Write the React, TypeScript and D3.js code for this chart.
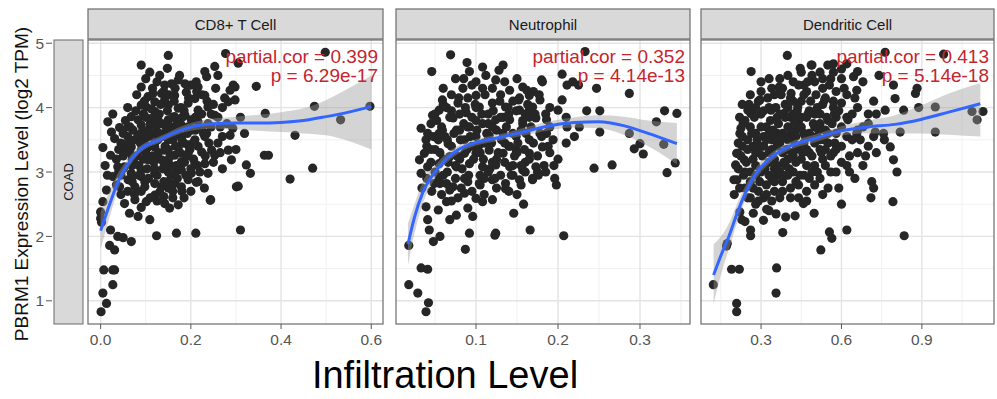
import { useEffect, useRef } from "react";
import * as d3 from "d3";

// cell types (facet strips)
const cellTypes = ["CD8+ T Cell", "Neutrophil", "Dendritic Cell"];
const cancer = "COAD";
const corText = ["partial.cor = 0.399", "partial.cor = 0.352", "partial.cor = 0.413"];
const pText = ["p = 6.29e-17", "p = 4.14e-13", "p = 5.14e-18"];

const yTicks = [1, 2, 3, 4, 5];
const xTicksCd8 = [0.0, 0.2, 0.4, 0.6];
const xTicksNeu = [0.1, 0.2, 0.3];
const xTicksDc = [0.3, 0.6, 0.9];

// [infiltration, expression]
const cd8Points: [number, number][] = [
  [0.001,0.83],[0.013,0.96],[0.005,1.12],[0.027,1.25],[0.007,1.48],[0.027,1.48],[0.031,1.48],[0.02,1.86],[0.031,1.79],
  [0.022,2.1],[0.038,2.0],[0.05,1.98],[0.068,1.92],[0.124,2.01],[0.168,2.05],[0.211,2.05],[0.31,2.1],
  [0.0,2.38],[0.0,2.28],[0.002,2.22],[0.005,2.54],[0.013,2.72],[0.035,2.8],[0.053,2.51],[0.064,2.36],[0.083,2.31],
  [0.076,2.57],[0.101,2.54],[0.109,2.26],[0.12,2.64],[0.131,2.69],[0.142,2.51],[0.15,2.75],[0.153,2.44],[0.172,2.49],
  [0.098,2.85],[0.212,2.84],[0.244,2.57],[0.301,2.77],[0.068,2.9],[0.045,2.65],[0.09,2.45],[0.16,2.6],[0.18,2.7],
  [0.027,3.9],[0.016,3.78],[0.042,3.69],[0.024,3.62],[0.031,3.52],[0.005,3.38],[0.022,3.26],[0.038,3.08],[0.027,2.93],
  [0.01,3.1],[0.015,2.95],[0.053,3.37],[0.076,3.5],[0.083,3.81],[0.101,4.01],[0.12,3.94],[0.15,4.04],[0.172,3.99],
  [0.194,4.07],[0.216,3.96],[0.238,4.01],[0.253,3.88],[0.216,3.78],[0.194,3.7],[0.157,3.7],[0.135,3.75],[0.105,3.65],
  [0.083,3.57],[0.068,3.39],[0.09,3.34],[0.12,3.39],[0.15,3.5],[0.179,3.55],[0.209,3.5],[0.231,3.55],[0.246,3.34],
  [0.224,3.31],[0.253,3.26],[0.283,3.34],[0.29,3.19],[0.194,3.29],[0.164,3.26],[0.135,3.19],[0.105,3.19],[0.076,3.13],
  [0.053,3.08],[0.061,2.88],[0.09,2.93],[0.12,2.98],[0.15,3.0],[0.179,3.03],[0.216,2.85],[0.238,2.98],[0.194,2.88],
  [0.164,2.82],[0.135,2.77],[0.098,2.77],[0.076,2.77],[0.042,2.77],[0.105,4.17],[0.135,4.22],[0.164,4.19],[0.142,4.12],
  [0.12,4.09],[0.09,4.04],[0.068,3.86],[0.061,3.7],[0.112,3.83],[0.164,3.86],[0.187,3.88],[0.201,3.81],[0.12,3.6],
  [0.142,3.6],[0.164,3.57],[0.098,3.5],[0.127,3.5],[0.105,3.39],[0.142,3.34],[0.172,3.39],[0.194,3.42],[0.12,3.24],
  [0.15,3.19],[0.179,3.16],[0.209,3.13],[0.231,3.13],[0.09,3.03],[0.068,2.98],[0.164,2.98],[0.201,2.98],[0.12,2.82],
  [0.15,2.85],[0.179,2.77],[0.201,3.65],[0.224,3.68],[0.238,3.75],[0.179,3.73],[0.15,3.81],[0.127,3.81],[0.09,3.73],
  [0.209,4.14],[0.231,4.19],[0.216,4.32],[0.187,4.37],[0.142,4.35],[0.06,3.55],[0.05,3.25],[0.07,3.2],[0.045,2.95],
  [0.15,4.81],[0.09,4.66],[0.109,4.55],[0.148,4.61],[0.131,4.5],[0.253,4.64],[0.231,4.56],[0.235,4.48],[0.212,4.4],
  [0.172,4.43],[0.09,4.32],[0.116,4.22],[0.157,4.37],[0.19,4.24],[0.298,4.32],[0.283,4.09],[0.277,4.84],[0.305,4.69],
  [0.498,4.86],[0.345,4.33],[0.365,3.91],[0.431,3.57],[0.47,3.06],[0.42,2.89],[0.474,4.02],[0.532,3.81],[0.363,3.26],
  [0.372,3.26],[0.332,2.98],[0.323,3.11],[0.293,3.68],[0.287,3.57],[0.319,3.6],[0.298,4.12],[0.287,4.27],[0.294,4.35],
  [0.597,4.02],[0.305,2.78],[0.243,2.56],[0.26,3.45],[0.27,3.05],[0.265,3.7],[0.27,4.0],[0.31,3.85],[0.3,3.35]
];
// dense core of the CD8+ cloud
const cd8Core: [number, number][] = [
  [0.045,3.45],[0.05,3.6],[0.055,3.8],[0.06,4.0],[0.065,3.3],[0.07,3.1],[0.072,3.65],[0.078,3.95],[0.08,3.25],[0.085,2.95],
  [0.088,3.45],[0.092,3.62],[0.095,3.9],[0.097,4.1],[0.1,3.3],[0.103,3.05],[0.106,2.9],[0.108,3.55],[0.11,3.75],[0.113,3.98],
  [0.115,4.3],[0.118,3.15],[0.12,3.45],[0.123,3.7],[0.125,2.95],[0.128,3.3],[0.13,3.9],[0.133,4.05],[0.136,3.55],[0.138,3.05],
  [0.14,2.85],[0.143,3.4],[0.145,3.7],[0.148,3.95],[0.151,4.2],[0.154,3.25],[0.156,2.95],[0.158,3.6],[0.16,3.85],[0.163,4.1],
  [0.166,3.4],[0.168,3.1],[0.17,2.9],[0.173,3.65],[0.176,3.3],[0.178,4.0],[0.181,3.85],[0.184,3.45],[0.186,3.15],[0.189,2.95],
  [0.192,3.6],[0.195,4.15],[0.198,3.35],[0.2,3.05],[0.203,3.8],[0.206,3.2],[0.21,3.65],[0.213,4.25],[0.216,3.4],[0.22,3.0],
  [0.224,3.9],[0.228,3.6],[0.232,3.25],[0.236,4.1],[0.24,3.45],[0.245,3.7],[0.25,3.15],[0.255,4.3],[0.26,3.85],[0.265,3.3],
  [0.27,3.55],[0.275,4.15],[0.28,3.75],[0.06,2.7],[0.075,2.65],[0.09,2.7],[0.11,2.6],[0.125,2.55],[0.14,2.62],[0.16,2.7],
  [0.185,2.6],[0.2,2.7],[0.23,2.75],[0.05,3.05],[0.06,3.45],[0.065,3.7],[0.04,3.35],[0.035,3.2],[0.04,3.0],[0.08,4.2],
  [0.1,4.45],[0.125,4.4],[0.14,4.25],[0.165,4.3],[0.175,4.5],[0.2,4.35],[0.225,4.2],[0.25,4.05],[0.26,4.5],[0.115,3.25],
  [0.13,3.6],[0.15,3.35],[0.17,3.75],[0.19,3.25],[0.21,3.85],[0.1,3.85],[0.085,3.1],[0.07,2.85],[0.155,3.1],[0.18,3.5],
  [0.205,3.45],[0.235,3.6],[0.095,3.2],[0.12,3.05],[0.14,3.15],[0.16,3.5],[0.185,3.95],[0.215,3.1],[0.245,3.9]
];

const neuPoints: [number, number][] = [
  [0.069,4.82],[0.046,4.56],[0.089,4.7],[0.092,4.56],[0.108,4.63],[0.112,4.5],[0.128,4.58],[0.133,4.66],[0.124,4.43],
  [0.084,4.3],[0.1,4.19],[0.108,4.3],[0.141,4.27],[0.157,4.32],[0.165,4.19],[0.181,4.4],[0.059,4.12],[0.078,4.07],
  [0.055,3.96],[0.047,3.88],[0.033,3.68],[0.041,3.6],[0.039,3.5],[0.037,3.29],[0.031,3.19],[0.033,2.98],[0.041,3.08],
  [0.055,2.9],[0.049,2.82],[0.064,2.82],[0.072,3.84],[0.088,3.92],[0.104,4.01],[0.12,4.07],[0.136,4.01],[0.153,3.96],
  [0.169,4.01],[0.173,3.84],[0.157,3.75],[0.141,3.81],[0.124,3.81],[0.108,3.75],[0.092,3.7],[0.076,3.65],[0.059,3.65],
  [0.054,3.5],[0.066,3.44],[0.086,3.5],[0.1,3.55],[0.116,3.57],[0.133,3.6],[0.149,3.55],[0.165,3.5],[0.178,3.6],
  [0.181,3.39],[0.165,3.29],[0.149,3.34],[0.133,3.29],[0.116,3.34],[0.1,3.29],[0.086,3.29],[0.068,3.24],[0.055,3.13],
  [0.076,3.08],[0.092,3.13],[0.108,3.08],[0.124,3.11],[0.141,3.08],[0.157,3.03],[0.173,3.08],[0.169,2.88],[0.153,2.88],
  [0.136,2.82],[0.12,2.88],[0.104,2.82],[0.086,2.9],[0.072,2.77],[0.065,3.0],[0.08,3.2],[0.095,3.4],[0.11,3.45],
  [0.125,3.2],[0.14,3.4],[0.155,3.65],[0.07,3.95],[0.09,4.15],[0.115,3.9],[0.13,4.2],[0.145,4.1],[0.16,3.9],
  [0.05,3.35],[0.045,3.75],[0.06,4.3],[0.075,4.45],[0.1,4.4],[0.115,3.0],[0.13,2.95],[0.145,2.95],[0.16,3.15],
  [0.233,4.87],[0.205,4.52],[0.18,4.43],[0.211,4.35],[0.225,4.35],[0.247,4.3],[0.287,4.22],[0.205,4.12],[0.2,3.96],
  [0.235,3.95],[0.251,3.95],[0.33,3.95],[0.345,3.91],[0.32,3.78],[0.226,3.7],[0.251,3.62],[0.287,3.6],[0.3,3.44],
  [0.293,3.36],[0.304,3.28],[0.329,3.43],[0.343,3.14],[0.333,2.99],[0.244,3.06],[0.266,3.11],[0.196,2.9],[0.198,2.8],
  [0.176,2.95],[0.211,3.7],[0.186,3.81],[0.178,4.12],[0.162,4.27],[0.152,4.12],[0.165,3.96],[0.186,3.6],[0.194,3.5],
  [0.218,4.4],[0.19,3.3],[0.2,3.2],[0.21,3.45],[0.22,3.55],[0.195,3.1],[0.185,3.0],[0.19,4.0],[0.21,3.85],
  [0.018,1.86],[0.033,1.51],[0.041,1.49],[0.018,1.25],[0.029,1.12],[0.042,0.97],[0.039,0.83],[0.048,1.92],[0.056,2.0],
  [0.043,2.1],[0.041,2.26],[0.039,2.46],[0.054,2.41],[0.068,2.26],[0.076,2.33],[0.09,2.44],[0.096,2.31],[0.092,2.05],
  [0.087,1.8],[0.123,2.02],[0.124,2.05],[0.146,2.36],[0.158,2.5],[0.166,2.1],[0.207,2.01],[0.136,2.74],[0.12,2.57],
  [0.108,2.54],[0.064,2.54],[0.034,2.75],[0.056,2.82],[0.068,2.72],[0.086,2.67],[0.1,2.59],[0.105,2.8],[0.169,2.9],
  [0.15,2.65],[0.078,2.6]
];
const neuCore: [number, number][] = [
  [0.04,3.4],[0.045,3.15],[0.048,3.55],[0.05,3.0],[0.052,3.8],[0.056,3.3],[0.058,3.7],[0.06,2.95],[0.062,3.55],[0.064,4.0],
  [0.066,3.15],[0.068,3.85],[0.07,3.4],[0.073,3.6],[0.075,2.9],[0.077,3.25],[0.079,4.15],[0.081,3.5],[0.083,3.05],[0.085,3.75],
  [0.087,4.0],[0.089,3.35],[0.091,2.95],[0.093,3.55],[0.095,3.85],[0.097,3.2],[0.099,4.05],[0.101,3.65],[0.103,3.4],[0.105,2.95],
  [0.107,3.9],[0.109,3.2],[0.111,4.2],[0.113,3.6],[0.115,3.75],[0.117,3.05],[0.119,3.45],[0.121,3.95],[0.123,2.9],[0.125,3.65],
  [0.127,3.3],[0.129,4.1],[0.131,3.5],[0.133,3.85],[0.135,3.15],[0.137,3.7],[0.139,4.0],[0.141,3.4],[0.143,2.95],[0.145,3.6],
  [0.147,3.25],[0.149,3.95],[0.151,3.45],[0.153,4.15],[0.155,3.1],[0.157,3.8],[0.159,3.35],[0.161,3.6],[0.163,4.05],[0.165,3.2],
  [0.167,3.7],[0.17,3.45],[0.172,3.9],[0.175,3.25],[0.177,4.2],[0.18,3.55],[0.183,3.1],[0.185,3.9],[0.188,3.4],[0.19,3.7],
  [0.04,2.9],[0.046,2.7],[0.058,2.65],[0.07,2.55],[0.082,2.75],[0.095,2.7],[0.11,2.65],[0.125,2.75],[0.14,2.7],[0.155,2.8],
  [0.07,4.2],[0.085,4.45],[0.095,4.35],[0.12,4.3],[0.135,4.4],[0.15,4.45],[0.17,4.25],[0.06,3.2],[0.075,3.1],[0.09,3.7],
  [0.105,3.3],[0.12,3.15],[0.135,3.45],[0.15,3.3],[0.165,3.85],[0.08,3.9],[0.1,3.8],[0.115,3.5],[0.13,3.85],[0.145,3.1],
  [0.16,3.0],[0.175,3.0],[0.065,3.5],[0.055,3.6],[0.045,3.35],[0.05,3.9],[0.06,4.05],[0.08,3.65],[0.1,4.0],[0.12,3.7],
  [0.14,3.9],[0.11,2.9],[0.09,2.85]
];

const dcPoints: [number, number][] = [
  [0.25,3.5],[0.28,3.6],[0.3,3.4],[0.32,3.7],[0.34,3.5],[0.36,3.6],[0.38,3.3],[0.4,3.7],[0.42,3.5],[0.44,3.8],
  [0.46,3.6],[0.48,3.3],[0.5,3.7],[0.52,3.5],[0.55,3.8],[0.58,3.6],[0.6,3.4],[0.27,3.2],[0.3,3.0],[0.33,3.15],
  [0.36,2.95],[0.39,3.1],[0.42,3.0],[0.45,3.2],[0.48,2.9],[0.5,3.1],[0.53,3.2],[0.56,3.0],[0.26,2.85],[0.29,2.7],
  [0.32,2.8],[0.35,2.7],[0.38,2.85],[0.41,2.75],[0.44,2.6],[0.47,2.7],[0.3,3.9],[0.33,4.0],[0.36,3.85],[0.39,4.05],
  [0.42,3.9],[0.45,4.1],[0.48,3.95],[0.51,4.0],[0.54,4.15],[0.57,4.0],[0.35,4.2],[0.38,4.3],[0.41,4.15],[0.44,4.35],
  [0.47,4.25],[0.5,4.4],[0.53,4.3],[0.58,4.25],[0.62,4.2],[0.62,3.85],[0.64,3.5],[0.66,3.3],[0.6,3.15],[0.63,3.0],
  [0.24,3.0],[0.23,3.4],[0.27,3.95],[0.3,4.25],[0.33,4.45],[0.4,4.5],[0.45,4.55],[0.52,4.55],[0.56,4.45],[0.6,4.45],
  [0.26,3.7],[0.29,3.3],[0.31,3.55],[0.34,3.35],[0.37,3.45],[0.4,3.2],[0.43,3.35],[0.46,3.45],[0.49,3.55],[0.52,3.35],
  [0.55,3.45],[0.57,3.3],[0.35,3.05],[0.38,3.6],[0.41,3.85],[0.43,3.65],[0.47,3.85],[0.5,3.9],[0.54,3.65],[0.58,3.85],
  [0.28,2.95],[0.31,2.6],[0.34,2.55],[0.37,2.6],[0.4,2.95],[0.43,2.85],[0.46,2.95],[0.5,2.8],[0.53,2.65],[0.59,2.75],
  [0.65,2.9],[0.68,3.1],[0.7,3.4],[0.68,3.7],[0.66,4.0],[0.7,3.9],[0.72,4.1],[0.68,4.4],[0.74,4.5],[0.73,3.3],
  [0.76,3.5],[0.71,2.6],[0.62,4.68],[0.6,4.6],[0.66,4.56],[0.645,4.48],[0.657,4.27],[0.794,4.35],[0.882,4.3],[0.876,4.22],
  [0.8,4.14],[0.763,3.96],[0.832,3.96],[0.888,4.0],[0.95,4.01],[1.087,3.94],[1.128,3.94],[1.106,3.81],[0.726,3.62],
  [0.757,3.6],[0.819,3.62],[0.95,3.62],[0.657,3.6],[0.807,3.0],[0.713,2.85],[0.72,2.75],[0.782,3.39],[0.794,3.19],
  [0.763,4.86],[0.981,4.83],[0.57,4.68],[0.446,4.61],[0.49,4.66],[0.398,4.81],[0.263,4.56],[0.371,4.3],[0.296,4.12],
  [0.251,3.96],[0.233,3.75],[0.221,3.6],[0.209,3.29],[0.205,3.11],[0.199,2.88],[0.122,1.25],[0.209,0.96],[0.209,0.83],
  [0.19,1.49],[0.219,1.49],[0.356,1.12],[0.358,1.51],[0.174,1.89],[0.171,1.85],[0.523,1.79],[0.261,2.1],[0.261,2.01],
  [0.381,2.06],[0.555,2.07],[0.564,1.97],[0.62,2.1],[0.834,2.01],[0.228,2.26],[0.24,2.23],[0.309,2.25],[0.392,2.3],
  [0.427,2.32],[0.498,2.36],[0.321,2.42],[0.356,2.35],[0.271,2.36],[0.221,2.38],[0.458,2.51],[0.792,2.54],[0.25,2.6],
  [0.28,2.5],[0.2,2.65],[0.22,2.75],[0.33,2.4],[0.6,2.5],[0.487,4.66],[0.549,4.66],[0.368,4.32],[0.412,4.22],
  [0.474,4.4],[0.337,3.96],[0.262,3.91],[0.237,3.78],[0.225,3.68],[0.213,3.29],[0.237,3.19],[0.21,2.88],[0.387,3.91],
  [0.437,4.01],[0.537,4.12],[0.6,4.07],[0.574,3.91],[0.624,3.81],[0.73,3.9]
];
const dcCore: [number, number][] = [
  [0.225,3.25],[0.23,3.55],[0.235,2.95],[0.24,3.8],[0.245,3.15],[0.25,3.35],[0.255,4.05],[0.26,3.0],[0.265,3.6],[0.27,3.4],
  [0.275,3.85],[0.28,3.1],[0.285,3.5],[0.29,4.1],[0.295,2.85],[0.3,3.7],[0.305,3.25],[0.31,3.95],[0.315,3.05],[0.32,3.5],
  [0.325,4.15],[0.33,3.3],[0.335,3.8],[0.34,2.9],[0.345,3.65],[0.35,3.2],[0.355,4.0],[0.36,3.4],[0.365,3.75],[0.37,3.0],
  [0.375,4.2],[0.38,3.55],[0.385,3.15],[0.39,3.85],[0.395,3.35],[0.4,4.0],[0.405,3.05],[0.41,3.6],[0.415,3.3],[0.42,4.1],
  [0.425,3.75],[0.43,3.15],[0.435,3.95],[0.44,3.4],[0.445,2.95],[0.45,3.7],[0.455,3.3],[0.46,4.2],[0.465,3.55],[0.47,3.1],
  [0.475,3.9],[0.48,3.6],[0.485,4.1],[0.49,3.25],[0.495,3.75],[0.5,3.45],[0.505,4.2],[0.51,3.0],[0.515,3.65],[0.52,3.9],
  [0.525,3.3],[0.53,4.05],[0.535,3.5],[0.54,3.1],[0.545,3.85],[0.55,3.6],[0.555,4.35],[0.56,3.25],[0.565,3.75],[0.57,4.1],
  [0.575,3.45],[0.58,3.0],[0.59,3.95],[0.6,3.7],[0.61,4.3],[0.62,3.55],[0.63,3.25],[0.64,3.9],[0.65,4.15],[0.66,3.65],
  [0.24,2.75],[0.26,2.6],[0.29,2.55],[0.32,2.65],[0.35,2.85],[0.38,2.7],[0.41,2.6],[0.44,2.8],[0.47,2.55],[0.52,2.9],
  [0.55,2.75],[0.3,4.4],[0.34,4.3],[0.37,4.45],[0.42,4.4],[0.46,4.35],[0.49,4.5],[0.53,4.45],[0.57,4.55],[0.28,4.0],
  [0.26,4.2],[0.23,4.05],[0.22,3.85],[0.215,3.45],[0.215,3.05],[0.27,2.75],[0.33,2.95],[0.36,3.1],[0.39,2.95],[0.43,3.55],
  [0.47,3.35],[0.51,3.55],[0.54,3.35],[0.58,3.35],[0.62,3.1],[0.67,3.5],[0.69,3.25],[0.7,3.75],[0.72,3.55],[0.35,3.5],
  [0.31,3.4],[0.28,3.3],[0.4,3.5],[0.45,3.85],[0.37,3.9],[0.33,3.6],[0.42,3.25],[0.49,3.0],[0.52,3.75]
];

// loess fit: [x, fit, lower, upper]
const cd8Curve: [number, number, number, number][] = [
  [0.0,2.09,1.8,2.38],[0.02,2.5,2.3,2.7],[0.04,2.87,2.75,3.0],[0.06,3.12,3.04,3.2],[0.08,3.3,3.24,3.36],
  [0.1,3.41,3.36,3.46],[0.13,3.5,3.45,3.55],[0.16,3.6,3.55,3.65],[0.2,3.7,3.64,3.76],[0.25,3.75,3.67,3.83],
  [0.3,3.76,3.66,3.86],[0.35,3.76,3.64,3.89],[0.4,3.77,3.62,3.93],[0.45,3.8,3.6,3.99],[0.5,3.86,3.57,4.12],
  [0.55,3.93,3.48,4.3],[0.6,4.02,3.35,4.5]
];
const neuCurve: [number, number, number, number][] = [
  [0.017,1.88,1.55,2.2],[0.025,2.3,2.05,2.5],[0.035,2.68,2.5,2.85],[0.05,3.0,2.9,3.1],[0.065,3.22,3.15,3.3],
  [0.08,3.36,3.3,3.42],[0.1,3.46,3.41,3.51],[0.13,3.54,3.49,3.59],[0.16,3.63,3.57,3.69],[0.19,3.72,3.65,3.79],
  [0.22,3.77,3.69,3.85],[0.25,3.78,3.68,3.88],[0.28,3.72,3.58,3.86],[0.31,3.6,3.4,3.8],[0.345,3.44,3.12,3.76]
];
const dcCurve: [number, number, number, number][] = [
  [0.123,1.4,0.95,1.88],[0.15,1.7,1.4,2.0],[0.18,2.0,1.8,2.2],[0.21,2.35,2.2,2.5],[0.24,2.66,2.55,2.77],
  [0.28,2.97,2.88,3.06],[0.33,3.2,3.13,3.27],[0.4,3.39,3.33,3.45],[0.5,3.52,3.46,3.58],[0.6,3.64,3.57,3.71],
  [0.7,3.7,3.6,3.8],[0.8,3.74,3.6,3.88],[0.9,3.82,3.6,4.04],[1.0,3.93,3.58,4.22],[1.118,4.06,3.55,4.38]
];

export default function App() {
  const ref = useRef<HTMLDivElement>(null);

  useEffect(() => {
    if (!ref.current) return;
    ref.current.innerHTML = "";

    const W = 997, H = 399;
    const top = 40, bottom = 324;
    const font = "'Liberation Sans', Arial, sans-serif";

    const panels = [
      { left: 88, right: 383, domain: [-0.028, 0.626], ticks: xTicksCd8, points: cd8Points.concat(cd8Core), curve: cd8Curve },
      { left: 396, right: 690, domain: [0.0024, 0.361], ticks: xTicksNeu, points: neuPoints.concat(neuCore), curve: neuCurve },
      { left: 701, right: 994, domain: [0.076, 1.169], ticks: xTicksDc, points: dcPoints.concat(dcCore), curve: dcCurve },
    ];
    const fmt = d3.format(".1f");

    const svg = d3.select(ref.current)
      .append("svg")
      .attr("width", W)
      .attr("height", H)
      .style("position", "absolute")
      .style("left", 0)
      .style("top", 0)
      .style("background", "#fff");

    const y = d3.scaleLinear().domain([0.64, 5.05]).range([bottom, top]);

    // row strip on the left
    svg.append("rect")
      .attr("x", 54).attr("y", top).attr("width", 29).attr("height", bottom - top)
      .attr("fill", "#d9d9d9").attr("stroke", "#6b6b6b").attr("stroke-width", 1);
    svg.append("text")
      .attr("transform", `translate(73,${(top + bottom) / 2}) rotate(-90)`)
      .attr("text-anchor", "middle")
      .attr("font-family", font).attr("font-size", 13).attr("fill", "#1a1a1a")
      .text(cancer);

    // y axis ticks + labels
    yTicks.forEach(t => {
      svg.append("line")
        .attr("x1", 46).attr("x2", 52).attr("y1", y(t)).attr("y2", y(t))
        .attr("stroke", "#555").attr("stroke-width", 1);
      svg.append("text")
        .attr("x", 44).attr("y", y(t) + 5.5)
        .attr("text-anchor", "end")
        .attr("font-family", font).attr("font-size", 15.5).attr("fill", "#555")
        .text(t);
    });

    panels.forEach((p, i) => {
      const x = d3.scaleLinear().domain(p.domain).range([p.left, p.right]);
      const g = svg.append("g");
      const clipId = "clip" + i;
      svg.append("clipPath").attr("id", clipId)
        .append("rect").attr("x", p.left).attr("y", top).attr("width", p.right - p.left).attr("height", bottom - top);

      // grid
      const step = p.ticks[1] - p.ticks[0];
      const minorX = d3.range(p.ticks[0] - step / 2, p.domain[1], step).filter(v => v > p.domain[0]);
      const minorY = [1.5, 2.5, 3.5, 4.5];
      minorX.forEach(v => g.append("line").attr("x1", x(v)).attr("x2", x(v)).attr("y1", top).attr("y2", bottom)
        .attr("stroke", "#f0f0f0").attr("stroke-width", 1));
      minorY.forEach(v => g.append("line").attr("x1", p.left).attr("x2", p.right).attr("y1", y(v)).attr("y2", y(v))
        .attr("stroke", "#f0f0f0").attr("stroke-width", 1));
      p.ticks.forEach(v => g.append("line").attr("x1", x(v)).attr("x2", x(v)).attr("y1", top).attr("y2", bottom)
        .attr("stroke", "#e3e3e3").attr("stroke-width", 1.4));
      yTicks.forEach(v => g.append("line").attr("x1", p.left).attr("x2", p.right).attr("y1", y(v)).attr("y2", y(v))
        .attr("stroke", "#e3e3e3").attr("stroke-width", 1.4));

      const plot = g.append("g").attr("clip-path", `url(#${clipId})`);

      // points
      plot.selectAll("circle").data(p.points).enter().append("circle")
        .attr("cx", d => x(d[0])).attr("cy", d => y(d[1])).attr("r", 4.6)
        .attr("fill", "#262626");

      // confidence band
      const area = d3.area<[number, number, number, number]>()
        .x(d => x(d[0])).y0(d => y(d[2])).y1(d => y(d[3]))
        .curve(d3.curveMonotoneX);
      plot.append("path").datum(p.curve).attr("d", area)
        .attr("fill", "#999999").attr("fill-opacity", 0.42);

      // fit line
      const line = d3.line<[number, number, number, number]>()
        .x(d => x(d[0])).y(d => y(d[1]))
        .curve(d3.curveMonotoneX);
      plot.append("path").datum(p.curve).attr("d", line)
        .attr("fill", "none").attr("stroke", "#3366FF").attr("stroke-width", 3);

      // panel border
      g.append("rect")
        .attr("x", p.left).attr("y", top).attr("width", p.right - p.left).attr("height", bottom - top)
        .attr("fill", "none").attr("stroke", "#6b6b6b").attr("stroke-width", 1.2);

      // strip
      g.append("rect")
        .attr("x", p.left).attr("y", 9).attr("width", p.right - p.left).attr("height", 30)
        .attr("fill", "#d9d9d9").attr("stroke", "#6b6b6b").attr("stroke-width", 1.2);
      g.append("text")
        .attr("x", (p.left + p.right) / 2).attr("y", 30)
        .attr("text-anchor", "middle")
        .attr("font-family", font).attr("font-size", 15).attr("fill", "#1a1a1a")
        .text(cellTypes[i]);

      // x axis
      p.ticks.forEach(t => {
        g.append("line").attr("x1", x(t)).attr("x2", x(t)).attr("y1", bottom).attr("y2", bottom + 5)
          .attr("stroke", "#555").attr("stroke-width", 1);
        g.append("text")
          .attr("x", x(t)).attr("y", bottom + 21)
          .attr("text-anchor", "middle")
          .attr("font-family", font).attr("font-size", 15.5).attr("fill", "#555")
          .text(fmt(t));
      });

      // annotation
      g.append("text")
        .attr("x", p.right - 5).attr("y", 62.5)
        .attr("text-anchor", "end")
        .attr("font-family", font).attr("font-size", 19).attr("fill", "#c4262e")
        .text(corText[i]);
      g.append("text")
        .attr("x", p.right - 5).attr("y", 81.5)
        .attr("text-anchor", "end")
        .attr("font-family", font).attr("font-size", 19).attr("fill", "#c4262e")
        .text(pText[i]);
    });

    // axis titles
    svg.append("text")
      .attr("transform", `translate(28,184) rotate(-90)`)
      .attr("text-anchor", "middle")
      .attr("font-family", font).attr("font-size", 19).attr("fill", "#111")
      .text("PBRM1 Expression Level (log2 TPM)");
    svg.append("text")
      .attr("x", 445).attr("y", 388)
      .attr("text-anchor", "middle")
      .attr("font-family", font).attr("font-size", 38).attr("fill", "#000")
      .text("Infiltration Level");
  });

  return <div ref={ref}></div>;
}
